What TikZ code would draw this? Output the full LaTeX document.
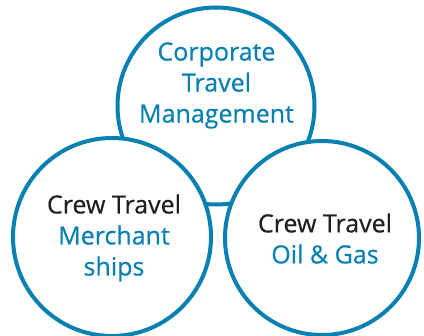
\documentclass[tikz,border=0pt]{standalone}
\usepackage{fontspec}
\setmainfont{Open Sans}
\newfontfamily\ringfont{Open Sans}[FakeBold=0.5]
\usetikzlibrary{positioning}
\definecolor{ctmblue}{RGB}{8,128,178}
\definecolor{ctmblack}{RGB}{35,31,32}
\tikzset{
  % white disc with a thick blue rim
  ring/.style={draw=ctmblue,line width=3pt,fill=white,circle,inner sep=0pt,minimum size=#1},
  % text set inside a ring
  ringtext/.style={align=center,text=ctmblue,
    font=\ringfont\fontsize{18.75}{23.25}\selectfont},
}

\begin{document}
\begin{tikzpicture}[x=0.75pt,y=-0.75pt]
            \useasboundingbox (0,0) rectangle (424,335);
            \node[ring=147.75pt] (ctm) at (216,106) {};
            \node[ring=148.5pt] (merchant) at (112,237) {};
            \node[ring=145.5pt] (oilgas) at (322,238) {};

            \node[ringtext] (ctmtext) at (216.5,85.5) {Corporate\\Travel\\Management};
            \node[ringtext] (merchanttext) at (114,238) {{\color{ctmblack}Crew Travel}\\Merchant\\ships};
            \node[ringtext] (oilgastext) at (325,238.5) {{\color{ctmblack}Crew Travel}\\Oil \& Gas};
        \end{tikzpicture}
\end{document}
